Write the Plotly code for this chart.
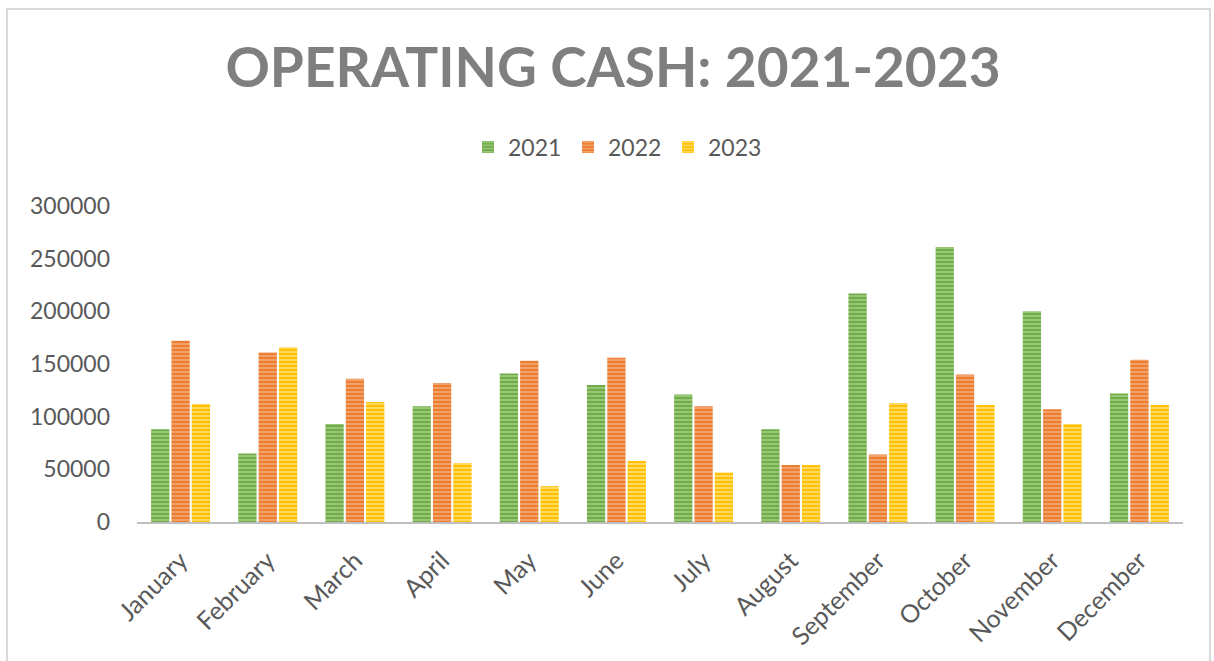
import plotly.graph_objects as go

months = ["January", "February", "March", "April", "May", "June", "July",
          "August", "September", "October", "November", "December"]
v2021 = [88000, 65000, 93000, 110000, 141000, 130000, 121000, 88000, 217000, 261000, 200000, 122000]
v2022 = [172000, 161000, 136000, 132000, 153000, 156000, 110000, 54000, 64000, 140000, 107000, 154000]
v2023 = [112000, 166000, 114000, 56000, 34000, 58000, 47000, 54000, 113000, 111000, 93000, 111000]
series_names = ["2021", "2022", "2023"]
colors = ["#70AD47", "#ED7D31", "#FFC000"]
light = ["#A9D18E", "#F4B183", "#FFE38A"]

W, H = 1214, 661
ML, MR, MT, MB = 137, 31, 206, 139
PW, PH = W - ML - MR, H - MT - MB

fig = go.Figure()
for name, vals, c, lc in zip(series_names, [v2021, v2022, v2023], colors, light):
    fig.add_trace(go.Bar(
        x=months, y=vals, name=name,
        marker=dict(color=c, line=dict(width=0),
                    pattern=dict(shape="-", fgcolor=lc, bgcolor=c, size=4,
                                 solidity=0.35, fgopacity=1)),
    ))

def px_x(p):
    return (p - ML) / PW

def px_y(p):
    return (H - MB - p) / PH

fig.add_shape(type="rect", xref="paper", yref="paper",
              x0=px_x(7), x1=px_x(1210), y0=px_y(668), y1=px_y(9),
              line=dict(color="#D9D9D9", width=2), fillcolor="rgba(0,0,0,0)", layer="below")

fig.update_layout(
    width=W, height=H,
    margin=dict(l=ML, r=MR, t=MT, b=MB),
    paper_bgcolor="white", plot_bgcolor="white",
    barmode="group", bargap=0.3, bargroupgap=0.1,
    title=dict(text="OPERATING CASH: 2021-2023", x=613 / W, xanchor="center",
               y=1 - 68 / H, yanchor="middle",
               font=dict(family="Lato", size=55, color="#7F7F7F", weight="bold")),
    legend=dict(orientation="h", x=px_x(618), xanchor="center", y=px_y(147), yanchor="middle",
                font=dict(family="Lato", size=23, color="#595959"),
                bgcolor="rgba(0,0,0,0)", entrywidth=55),
    font=dict(family="Lato", color="#595959"),
    showlegend=True,
)
fig.update_xaxes(showline=True, linecolor="#BFBFBF", linewidth=2, showgrid=False,
                 tickangle=-45, tickfont=dict(family="Lato", size=25, color="#595959"),
                 ticks="", ticklabelstandoff=12, fixedrange=True)
fig.update_yaxes(range=[0, 300000], dtick=50000, tickformat="d", showgrid=False,
                 showline=False, zeroline=False, ticklabelstandoff=26,
                 tickfont=dict(family="Lato", size=23, color="#595959"), fixedrange=True)

fig.write_html("out.html", config={"displayModeBar": False})
